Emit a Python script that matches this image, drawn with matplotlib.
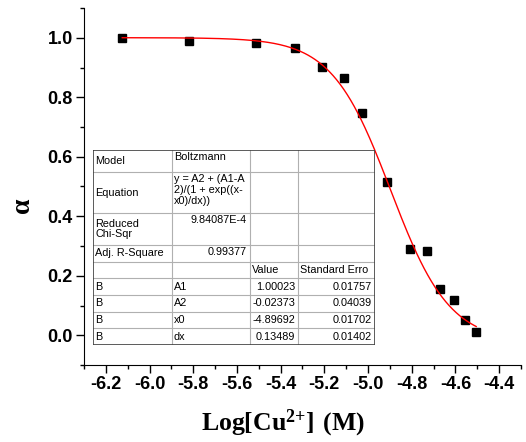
import numpy as np
import matplotlib.pyplot as plt

plt.rcParams['mathtext.fontset'] = 'custom'
plt.rcParams['mathtext.rm'] = 'Liberation Serif'
plt.rcParams['mathtext.bf'] = 'Liberation Serif:bold'

# data
log_cu = [-6.125, -5.819, -5.512, -5.333, -5.210, -5.109, -5.026,
          -4.914, -4.807, -4.730, -4.670, -4.606, -4.555, -4.505]
alpha = [1.000, 0.990, 0.983, 0.967, 0.903, 0.866, 0.746,
         0.515, 0.291, 0.284, 0.157, 0.117, 0.050, 0.010]

# Boltzmann fit parameters (from the table)
A1, A2, x0, dx = 1.00023, -0.02373, -4.89692, 0.13489

xticks = [-6.2, -6.0, -5.8, -5.6, -5.4, -5.2, -5.0, -4.8, -4.6, -4.4]
yticks = [0.0, 0.2, 0.4, 0.6, 0.8, 1.0]

table_rows = [
    ["Model", "Boltzmann", "", ""],
    ["Equation", "y = A2 + (A1-A\n2)/(1 + exp((x-\nx0)/dx))", "", ""],
    ["Reduced\nChi-Sqr", "9.84087E-4", "", ""],
    ["Adj. R-Square", "0.99377", "", ""],
    ["", "", "Value", "Standard Erro"],
    ["B", "A1", "1.00023", "0.01757"],
    ["B", "A2", "-0.02373", "0.04039"],
    ["B", "x0", "-4.89692", "0.01702"],
    ["B", "dx", "0.13489", "0.01402"],
]

W, H = 526, 442
fig = plt.figure(figsize=(W / 100, H / 100), dpi=100)
ax = fig.add_axes([84 / W, 1 - 365 / H, 437 / W, 357 / H])

ax.plot(log_cu, alpha, 's', color='black', markersize=6)
xf = np.linspace(log_cu[0], log_cu[-1], 300)
yf = A2 + (A1 - A2) / (1 + np.exp((xf - x0) / dx))
ax.plot(xf, yf, color='red', lw=1)

ax.set_xlim(-6.3, -4.3)
ax.set_ylim(-0.1, 1.1)
ax.set_xticks(xticks)
ax.set_yticks(yticks)
ax.set_xticks(np.arange(-6.3, -4.25, 0.1), minor=True)
ax.set_yticks(np.arange(-0.1, 1.15, 0.1), minor=True)
ax.set_xticklabels([f"{v:.1f}" for v in xticks])
ax.set_yticklabels([f"{v:.1f}" for v in yticks])
for lab in ax.get_xticklabels() + ax.get_yticklabels():
    lab.set_fontfamily('Liberation Sans')
    lab.set_fontweight('bold')
    lab.set_fontsize(13)
ax.tick_params(which='major', direction='out', length=6, width=1, pad=2)
ax.tick_params(which='minor', direction='out', length=3, width=1)
ax.spines['top'].set_visible(False)
ax.spines['right'].set_visible(False)

ax.set_xlabel(r"$\mathbf{Log[Cu^{2{+}}]\ (M)}$", fontsize=18.5)
ax.xaxis.set_label_coords(0.456, -0.12)
ax.set_ylabel("α", family='Liberation Serif', fontweight='bold', fontsize=20)
ax.yaxis.set_label_coords(-0.113, 0.448)

# fit results table, drawn in pixel units
tab = fig.add_axes([93 / W, 1 - 345 / H, 282 / W, 195 / H])
tab.set_xlim(0, 282)
tab.set_ylim(195, 0)
tab.axis('off')
tab.patch.set_visible(True)
tab.patch.set_facecolor('white')
cols = [0, 79, 157, 205, 282]
rows = [0, 22, 63, 95, 112, 128, 145, 162, 178, 195]
for c in cols[1:-1]:
    tab.plot([c, c], [0, 195], color='#b0b0b0', lw=0.8)
for r in rows[1:-1]:
    tab.plot([0, 282], [r, r], color='#b0b0b0', lw=0.8)
tab.plot([0, 282, 282, 0, 0], [0, 0, 195, 195, 0], color='#404040', lw=1.2)

fs = 7.8
for i, row in enumerate(table_rows):
    top, bot = rows[i], rows[i + 1]
    mid = (top + bot) / 2
    for j, txt in enumerate(row):
        if not txt:
            continue
        left, right = cols[j], cols[j + 1]
        if i < 4 and j == 1:
            if i in (2, 3):
                tab.text(right - 3, top + 2, txt, ha='right', va='top',
                         fontsize=fs, family='Liberation Sans')
            else:
                tab.text(left + 2, top + 2, txt, ha='left', va='top',
                         fontsize=fs, family='Liberation Sans', linespacing=1.1)
        elif i >= 5 and j >= 2:
            tab.text(right - 3, mid, txt, ha='right', va='center',
                     fontsize=fs, family='Liberation Sans')
        else:
            tab.text(left + 2, mid, txt, ha='left', va='center',
                     fontsize=fs, family='Liberation Sans', linespacing=1.1)

fig.savefig('out.png', dpi=100)
